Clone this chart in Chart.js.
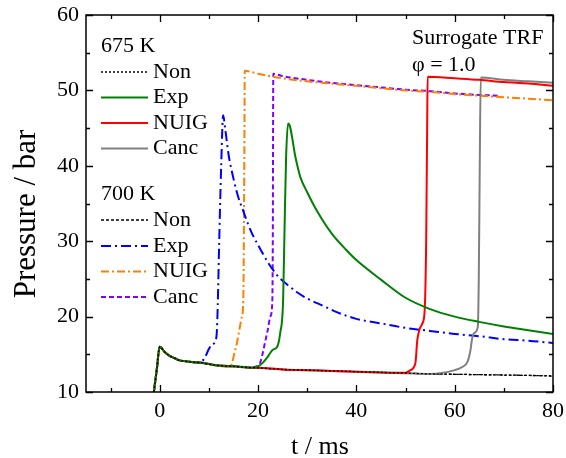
<!DOCTYPE html>
<html><head><meta charset="utf-8">
<script src="https://cdn.jsdelivr.net/npm/chart.js@4/dist/chart.umd.min.js"></script>
<style>html,body{margin:0;padding:0;background:#fff;}canvas{display:block;}</style>
</head><body>
<canvas id="c" width="566" height="458"></canvas>
<script>
// ---------- data ----------
const xTicks = [-10, 0, 10, 20, 30, 40, 50, 60, 70, 80];
const yTicks = [10, 15, 20, 25, 30, 35, 40, 45, 50, 55, 60];

// shared compression / post-compression trace
const tBase = [-1.2, -0.6, 0, 1, 2, 3, 4, 5, 6, 8, 10, 12, 15, 18, 20, 25, 30, 35, 40, 45, 50, 55, 60, 65, 70, 75, 80];
const pBase = [10, 13.0, 16.0, 15.3, 14.8, 14.5, 14.2, 14.1, 14.0, 13.9, 13.7, 13.5, 13.4, 13.25, 13.2, 13.0, 12.9, 12.8, 12.7, 12.6, 12.5, 12.4, 12.35, 12.3, 12.25, 12.2, 12.15];

// 675 K
const t675Non = [80];
const p675Non = [12.15];
const t675Exp = [19, 20, 21, 22, 23, 23.9, 24.5, 25.1, 25.4, 25.7, 26.1, 26.5, 27, 27.5, 28, 28.6, 30, 32, 35, 38, 40, 45, 50, 55, 60, 65, 70, 75, 80];
const p675Exp = [13.2, 13.4, 13.9, 14.7, 15.6, 16.0, 17.8, 22.2, 32, 41, 45.6, 45.2, 43.5, 41.5, 40, 38.5, 36.5, 34.0, 31.0, 28.8, 27.5, 24.9, 22.5, 21.0, 20.0, 19.3, 18.7, 18.2, 17.7];
const t675NUIG = [50, 51, 52, 52.4, 52.8, 53.5, 53.9, 54.2, 54.4, 54.5, 60, 65, 70, 75, 80];
const p675NUIG = [12.55, 12.9, 13.8, 16.9, 18.2, 19.2, 20.9, 30, 45, 51.8, 51.6, 51.4, 51.1, 50.9, 50.6];
const t675Canc = [60, 61.5, 62.6, 63.2, 63.5, 63.9, 64.7, 64.9, 65.1, 65.3, 70, 75, 80];
const p675Canc = [12.9, 13.3, 14.0, 15.5, 16.9, 17.8, 18.6, 25, 40, 51.7, 51.4, 51.2, 51.0];

// 700 K
const t700Non = [80];
const p700Non = [12.1];
const t700Exp = [8.5, 9.2, 10, 10.5, 11.2, 11.6, 11.8, 12.1, 12.5, 12.9, 13.3, 14, 15, 16, 17, 18, 19, 20, 22, 24, 26, 28, 30, 33, 36, 40, 45, 50, 55, 60, 65, 70, 75, 80];
const p700Exp = [14.0, 14.6, 15.7, 16.2, 16.6, 17.8, 21.5, 30, 40, 46.7, 45.0, 41.5, 38.3, 35.8, 34.0, 32.2, 30.7, 29.5, 27.2, 25.4, 24.2, 23.2, 22.4, 21.5, 20.6, 19.7, 19.1, 18.5, 18.1, 17.7, 17.4, 17.0, 16.8, 16.5];
const t700NUIG = [14.3, 14.7, 15.2, 15.7, 16.3, 16.7, 17.0, 17.2, 17.3, 20, 25, 30, 35, 40, 45, 50, 55, 60, 65, 70, 75, 80];
const p700NUIG = [13.3, 13.8, 15.2, 16.5, 18.6, 20.0, 22.2, 40, 52.6, 52.2, 51.6, 51.2, 50.9, 50.6, 50.3, 50.0, 49.8, 49.5, 49.3, 49.1, 48.9, 48.7];
const t700Canc = [20, 20.5, 21, 21.5, 22, 22.5, 22.9, 23.0, 23.1, 25, 30, 35, 40, 45, 50, 55, 60, 65, 69];
const p700Canc = [13.5, 14.0, 15.3, 16.8, 18.3, 20.0, 22.0, 30, 52.2, 51.9, 51.4, 51.0, 50.7, 50.4, 50.1, 49.9, 49.6, 49.4, 49.3];

// ---------- build ----------
function join(tOwn, pOwn) {
  const pts = [];
  for (let i = 0; i < tBase.length; i++) if (tBase[i] < tOwn[0]) pts.push({x: tBase[i], y: pBase[i]});
  for (let i = 0; i < tOwn.length; i++) pts.push({x: tOwn[i], y: pOwn[i]});
  return pts;
}
const FONT = "'Liberation Serif', 'Times New Roman', serif";
const series = [
  {label:'Non',  group:0, t:t675Non,  p:p675Non,  color:'#000000', dash:[2,2],        w:1.3},
  {label:'Exp',  group:0, t:t675Exp,  p:p675Exp,  color:'#008000', dash:[],           w:2},
  {label:'NUIG', group:0, t:t675NUIG, p:p675NUIG, color:'#ff0000', dash:[],           w:2},
  {label:'Canc', group:0, t:t675Canc, p:p675Canc, color:'#808080', dash:[],           w:2},
  {label:'Non',  group:1, t:t700Non,  p:p700Non,  color:'#000000', dash:[3,2],        w:1.3},
  {label:'Exp',  group:1, t:t700Exp,  p:p700Exp,  color:'#0000ff', dash:[10,4,2,4],   w:2},
  {label:'NUIG', group:1, t:t700NUIG, p:p700NUIG, color:'#ff8000', dash:[8,3,2,3],    w:2},
  {label:'Canc', group:1, t:t700Canc, p:p700Canc, color:'#8000ff', dash:[5,3],        w:2},
];
const datasets = series.map(s => ({
  label: s.label, data: join(s.t, s.p), borderColor: s.color, backgroundColor: s.color,
  borderDash: s.dash, borderWidth: s.w, pointRadius: 0, showLine: true, fill: false,
  cubicInterpolationMode: 'monotone'
}));

const framePlugin = {
  id: 'frame',
  afterDatasetsDraw(chart) {
    const {ctx, chartArea: a, scales: {x, y}} = chart;
    ctx.save();
    ctx.strokeStyle = '#000';
    ctx.lineWidth = 1.5;
    ctx.strokeRect(a.left, a.top, a.right - a.left, a.bottom - a.top);
    ctx.lineWidth = 1.3;
    ctx.beginPath();
    xTicks.forEach(v => {
      const px = Math.round(x.getPixelForValue(v)) + 0.5, L = v % 20 === 0 ? 7 : 4;
      ctx.moveTo(px, a.bottom); ctx.lineTo(px, a.bottom - L);
      ctx.moveTo(px, a.top); ctx.lineTo(px, a.top + L);
    });
    yTicks.forEach(v => {
      const py = Math.round(y.getPixelForValue(v)) + 0.5, L = v % 10 === 0 ? 7 : 4;
      ctx.moveTo(a.left, py); ctx.lineTo(a.left + L, py);
      ctx.moveTo(a.right, py); ctx.lineTo(a.right - L, py);
    });
    ctx.stroke();
    ctx.restore();
  },
  afterDraw(chart) {
    const {ctx} = chart;
    ctx.save();
    ctx.fillStyle = '#000';
    ctx.textBaseline = 'middle';
    ctx.font = '22px ' + FONT;
    // legend
    const headers = [{text:'675 K', y:46}, {text:'700 K', y:194}];
    const rows0 = [72, 97.5, 123, 148.5];
    const rows1 = [220, 246, 271.5, 297];
    headers.forEach(h => { ctx.textAlign = 'left'; ctx.fillText(h.text, 101, h.y); });
    let i0 = 0, i1 = 0;
    series.forEach(s => {
      const yy = s.group === 0 ? rows0[i0++] : rows1[i1++];
      ctx.save();
      ctx.strokeStyle = s.color; ctx.lineWidth = s.w; ctx.setLineDash(s.dash);
      ctx.beginPath(); ctx.moveTo(101, yy); ctx.lineTo(148, yy); ctx.stroke();
      ctx.restore();
      ctx.textAlign = 'left';
      ctx.fillText(s.label, 153, yy);
    });
    // annotations
    ctx.fillText('Surrogate TRF', 412, 38);
    ctx.fillText('φ = 1.0', 412, 65);
    // axis titles
    ctx.font = '26px ' + FONT;
    ctx.textAlign = 'center';
    ctx.fillText('t / ms', 320, 447);
    ctx.save();
    ctx.font = '31px ' + FONT;
    ctx.translate(27, 214);
    ctx.rotate(-Math.PI / 2);
    ctx.fillText('Pressure / bar', 0, 0);
    ctx.restore();
    ctx.restore();
  }
};

new Chart(document.getElementById('c'), {
  type: 'scatter',
  data: {datasets},
  options: {
    responsive: false, animation: false, devicePixelRatio: 1,
    layout: {padding: {top: 15, right: 13, left: 0, bottom: 0}},
    plugins: {legend: {display: false}, tooltip: {enabled: false}},
    scales: {
      x: {
        type: 'linear', min: -15, max: 80,
        afterBuildTicks: s => { s.ticks = xTicks.map(v => ({value: v})); },
        afterFit: s => { s.height = 66; s.paddingLeft = 0; s.paddingRight = 0; },
        grid: {display: false, drawTicks: false}, border: {display: false},
        ticks: {callback: v => (v % 20 === 0 ? String(v) : ''), font: {family: FONT, size: 22}, color: '#000', padding: 6, maxRotation: 0, autoSkip: false}
      },
      y: {
        type: 'linear', min: 10, max: 60,
        afterBuildTicks: s => { s.ticks = yTicks.map(v => ({value: v})); },
        afterFit: s => { s.width = 86; s.paddingTop = 0; s.paddingBottom = 0; },
        grid: {display: false, drawTicks: false}, border: {display: false},
        ticks: {callback: v => (v % 10 === 0 ? String(v) : ''), font: {family: FONT, size: 22}, color: '#000', padding: 7, autoSkip: false}
      }
    }
  },
  plugins: [framePlugin]
});
</script>
</body></html>
